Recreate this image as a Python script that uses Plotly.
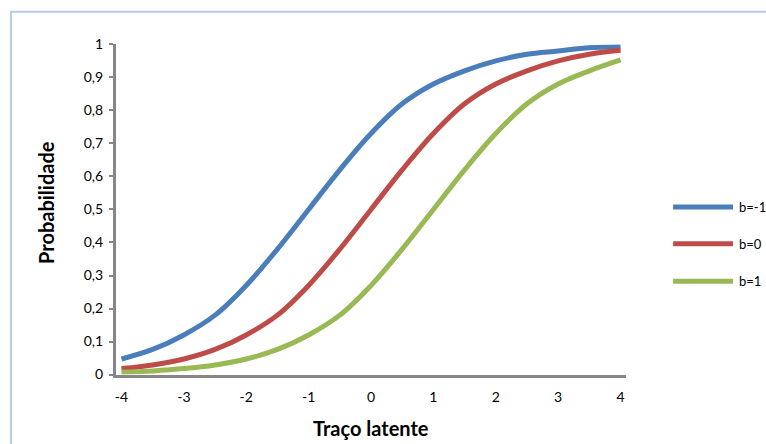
import plotly.graph_objects as go

W, H = 766, 444

theta = [-4, -3.5, -3, -2.5, -2, -1.5, -1, -0.5, 0, 0.5, 1, 1.5, 2, 2.5, 3, 3.5, 4]
p_b_minus1 = [0.047, 0.076, 0.12, 0.18, 0.27, 0.38, 0.50, 0.62, 0.73, 0.82, 0.88, 0.92, 0.95, 0.97, 0.98, 0.99, 0.993]
p_b_0 = [0.018, 0.029, 0.047, 0.076, 0.12, 0.18, 0.27, 0.38, 0.50, 0.62, 0.73, 0.82, 0.88, 0.92, 0.95, 0.97, 0.982]
p_b_1 = [0.007, 0.011, 0.018, 0.029, 0.047, 0.076, 0.12, 0.18, 0.27, 0.38, 0.50, 0.62, 0.73, 0.82, 0.88, 0.92, 0.953]
series_names = ["b=-1", "b=0", "b=1"]
series_values = [p_b_minus1, p_b_0, p_b_1]
colors = ["#4A7EBB", "#BE4B48", "#98B954"]
x_ticks = [-4, -3, -2, -1, 0, 1, 2, 3, 4]
x_tick_labels = ["-4", "-3", "-2", "-1", "0", "1", "2", "3", "4"]
y_ticks = [0, 0.1, 0.2, 0.3, 0.4, 0.5, 0.6, 0.7, 0.8, 0.9, 1]

def px(x):
    return x / W

def py(y):
    # empirical vertical correction so rendered pixels match the reference
    yf = (y - 6.3) / 0.97
    return 1 - yf / H

fig = go.Figure()
for name, vals, col in zip(series_names, series_values, colors):
    fig.add_trace(go.Scatter(x=theta, y=vals, mode="lines", name=name,
                             line=dict(color=col, width=5, shape="spline"),
                             showlegend=False))

font = "Lato, Carlito, 'Open Sans', sans-serif"

shapes = [dict(type="rect", xref="paper", yref="paper",
               x0=px(10), y0=py(9), x1=px(800), y1=py(480),
               line=dict(color="#B7CBE6", width=2), fillcolor="rgba(0,0,0,0)",
               layer="below")]
annotations = []
legend_y = [206, 243, 281]
for name, col, ly in zip(series_names, colors, legend_y):
    shapes.append(dict(type="line", xref="paper", yref="paper",
                       x0=px(673), x1=px(733), y0=py(ly), y1=py(ly),
                       line=dict(color=col, width=5)))
    annotations.append(dict(xref="paper", yref="paper", x=px(737), y=py(ly),
                            text=name, showarrow=False, xanchor="left", yanchor="middle",
                            font=dict(family=font, size=13, color="#000000")))

annotations.append(dict(xref="paper", yref="paper", x=px(45), y=py(201),
                        text="<b>Probabilidade</b>", textangle=-90, showarrow=False,
                        xanchor="center", yanchor="middle",
                        font=dict(family=font, size=20, color="#000000")))
annotations.append(dict(xref="paper", yref="paper", x=px(370), y=py(429),
                        text="<b>Traço latente</b>", showarrow=False,
                        xanchor="center", yanchor="middle",
                        font=dict(family=font, size=20, color="#000000")))

fig.update_layout(
    width=W, height=H,
    margin=dict(l=0, r=0, t=0, b=0),
    paper_bgcolor="white", plot_bgcolor="white",
    separators=",.",
    shapes=shapes, annotations=annotations,
    xaxis=dict(domain=[px(115), px(626)], range=[-4.09, 4.09],
               tickvals=x_ticks, ticktext=x_tick_labels,
               showgrid=False, zeroline=False,
               showline=True, linecolor="#878787", linewidth=3,
               ticks="", ticklabelstandoff=8,
               tickfont=dict(family=font, size=14, color="#000000")),
    yaxis=dict(domain=[py(375), py(42)], range=[0, 1],
               tickvals=y_ticks, showgrid=False, zeroline=False,
               showline=True, linecolor="#878787", linewidth=3,
               ticks="outside", ticklen=4, tickwidth=1.5, tickcolor="#878787",
               ticklabelstandoff=3,
               tickfont=dict(family=font, size=14, color="#000000")),
)

fig.write_html("out.html")
